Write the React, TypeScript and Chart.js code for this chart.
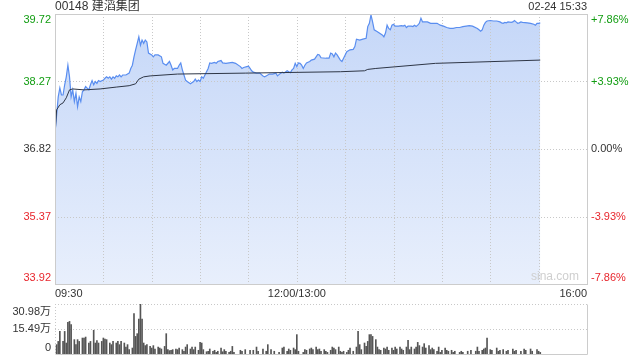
import { useEffect, useRef } from "react";
import { Chart, registerables } from "chart.js";

Chart.register(...registerables);

// ---------- data ----------
const stockTitle = "00148 建滔集团";
const stampText = "02-24 15:33";
const prevClose = 36.82;
const priceTicks = [33.92, 35.37, 36.82, 38.27, 39.72];
const pctTicks = ["-7.86%", "-3.93%", "0.00%", "+3.93%", "+7.86%"];
const timeLabels = ["09:30", "12:00/13:00", "16:00"];
const volTicks = [0, 15.49, 30.98];
const volTickLabels = ["0", "15.49万", "30.98万"];
const watermark = "sina.com";

const priceTimes = [
  "09:30","09:32","09:33","09:34","09:35","09:36","09:37","09:38","09:39","09:40",
  "09:41","09:42","09:43","09:44","09:45","09:46","09:47","09:48","09:49","09:51",
  "09:52","09:53","09:54","09:55","09:56","09:57","09:58","10:00","10:01","10:02",
  "10:03","10:04","10:05","10:06","10:07","10:08","10:09","10:10","10:11","10:12",
  "10:14","10:16","10:17","10:18","10:19","10:20","10:21","10:22","10:23","10:24",
  "10:25","10:26","10:27","10:28","10:30","10:31","10:32","10:34","10:36","10:37",
  "10:39","10:41","10:42","10:43","10:44","10:46","10:47","10:48","10:49","10:50",
  "10:51","10:52","10:54","10:56","10:57","10:58","10:59","11:00","11:01","11:02",
  "11:03","11:04","11:05","11:06","11:07","11:08","11:09","11:10","11:11","11:13",
  "11:14","11:16","11:18","11:20","11:22","11:25","11:26","11:27","11:29","11:30",
  "11:31","11:32","11:33","11:35","11:37","11:39","11:40","11:41","11:43","11:45",
  "11:47","11:48","11:50","11:51","11:52","11:54","11:55","11:56","11:57","11:58",
  "11:59","12:00",
  "13:01","13:02","13:03","13:04","13:05","13:06","13:08","13:09","13:11","13:13",
  "13:14","13:15","13:18","13:20","13:21","13:22","13:23","13:24","13:25","13:27",
  "13:28","13:29","13:31","13:33","13:35","13:36","13:37","13:39","13:41","13:43",
  "13:44","13:45","13:46","13:47","13:48","13:50","13:53","13:54","13:55","13:56",
  "13:57","13:58","13:59","14:00","14:01","14:03","14:05","14:06","14:07","14:08",
  "14:09","14:11","14:12","14:13","14:14","14:15","14:16","14:17","14:18","14:21",
  "14:23","14:25","14:27","14:29","14:31","14:33","14:35","14:37","14:39","14:41",
  "14:43","14:45","14:47","14:49","14:52","14:53","14:54","14:55","14:56","14:57",
  "14:58","15:00","15:02","15:04","15:06","15:07","15:08","15:09","15:10","15:11",
  "15:13","15:14","15:15","15:16","15:17","15:18","15:19","15:20","15:23","15:25",
  "15:27","15:28","15:29","15:30","15:31",
];
const priceValues = [
  37.16,37.94,38.13,37.98,37.98,38.20,38.37,38.62,38.37,37.94,
  38.09,37.84,38.02,37.73,37.94,37.84,38.05,38.09,38.16,38.09,
  38.20,38.29,38.20,38.27,38.23,38.29,38.27,38.30,38.34,38.37,
  38.34,38.37,38.32,38.37,38.34,38.39,38.37,38.41,38.37,38.41,
  38.41,38.45,38.55,38.62,38.80,38.95,39.09,39.23,39.05,39.16,
  39.09,39.16,39.12,38.88,38.84,38.80,38.84,38.84,38.80,38.66,
  38.62,38.70,38.62,38.52,38.55,38.55,38.62,38.67,38.52,38.41,
  38.30,38.27,38.22,38.27,38.32,38.27,38.30,38.27,38.37,38.34,
  38.41,38.48,38.55,38.67,38.66,38.67,38.68,38.66,38.70,38.72,
  38.67,38.66,38.67,38.68,38.66,38.59,38.55,38.57,38.59,38.60,
  38.55,38.50,38.47,38.45,38.45,38.39,38.37,38.39,38.43,38.43,
  38.45,38.39,38.45,38.47,38.45,38.50,38.48,38.46,38.52,38.55,
  38.66,38.59,
  38.67,38.66,38.62,38.55,38.62,38.67,38.70,38.73,38.75,38.85,
  38.84,38.78,38.77,38.77,38.88,38.86,38.80,38.88,38.84,38.73,
  38.70,38.77,38.91,38.95,38.96,39.02,39.18,39.16,39.18,39.20,
  39.45,39.52,39.70,39.55,39.38,39.34,39.27,39.23,39.31,39.48,
  39.41,39.38,39.48,39.50,39.46,39.46,39.47,39.46,39.48,39.43,
  39.46,39.46,39.45,39.48,39.45,39.48,39.52,39.63,39.55,39.55,
  39.52,39.52,39.52,39.48,39.46,39.43,39.41,39.41,39.43,39.43,
  39.45,39.46,39.47,39.46,39.41,39.38,39.35,39.38,39.48,39.54,
  39.57,39.58,39.57,39.57,39.55,39.53,39.52,39.54,39.53,39.55,
  39.54,39.55,39.58,39.55,39.52,39.53,39.55,39.54,39.53,39.52,
  39.50,39.48,39.52,39.52,39.53,
];

const avgTimes = [
  "09:30","09:31","09:33","09:35","09:37","09:39","09:41","09:48","09:58","10:08",
  "10:16","10:20","10:22","10:25","10:29","10:46","11:28","13:27","13:42","13:44",
  "13:49","14:26","15:31",
];
const avgValues = [
  37.12,37.66,37.77,37.81,37.92,38.09,38.11,38.09,38.11,38.15,
  38.18,38.22,38.32,38.37,38.39,38.43,38.45,38.48,38.50,38.53,
  38.55,38.66,38.73,
];

const volTimes = [
  "09:31","09:32","09:33","09:35","09:36","09:37","09:38","09:39","09:40","09:42",
  "09:43","09:44","09:45","09:47","09:48","09:49","09:51","09:52","09:54","09:55",
  "09:56","09:57","09:59","10:00","10:01","10:02","10:04","10:05","10:06","10:08",
  "10:09","10:10","10:11","10:13","10:14","10:15","10:16","10:18","10:19","10:20",
  "10:21","10:22","10:23","10:24","10:25","10:26","10:27","10:29","10:30","10:31",
  "10:32","10:34","10:35","10:36","10:38","10:39","10:40","10:41","10:42","10:43",
  "10:45","10:46","10:47","10:49","10:50","10:51","10:52","10:54","10:55","10:56",
  "10:57","10:59","11:00","11:01","11:02","11:04","11:05","11:06","11:08","11:09",
  "11:10","11:11","11:13","11:14","11:15","11:16","11:18","11:19","11:20","11:21",
  "11:25","11:26","11:28","11:31","11:33","11:35","11:36","11:39","11:41","11:42",
  "11:44","11:46","11:49","11:51","11:52","11:54","11:55","11:56","11:58","11:59",
  "13:00","13:01","13:04","13:05","13:06","13:08","13:09","13:10","13:12","13:13",
  "13:14","13:15","13:17","13:18","13:19","13:21","13:22","13:23","13:24","13:26",
  "13:27","13:28","13:29","13:31","13:32","13:33","13:35","13:37","13:38","13:39",
  "13:40","13:42","13:43","13:44","13:45","13:46","13:47","13:49","13:50","13:51",
  "13:52","13:54","13:55","13:56","13:57","13:59","14:00","14:01","14:02","14:04",
  "14:05","14:06","14:08","14:09","14:10","14:11","14:13","14:14","14:15","14:16",
  "14:18","14:19","14:20","14:22","14:23","14:24","14:25","14:27","14:28","14:29",
  "14:30","14:32","14:33","14:34","14:36","14:37","14:38","14:41","14:42","14:43",
  "14:46","14:48","14:51","14:52","14:53","14:55","14:56","14:57","14:58","15:00",
  "15:01","15:04","15:05","15:06","15:08","15:10","15:11","15:14","15:15","15:16",
  "15:19","15:21","15:22","15:25","15:26","15:29","15:30","15:31",
];
const volValues = [
  5.8,7.8,14.0,7.8,14.0,6.8,19.6,20.2,18.2,8.9,
  5.8,8.9,7.8,9.9,9.9,10.5,6.8,7.8,14.7,6.8,
  8.3,6.8,7.8,9.9,9.3,8.9,6.8,5.8,7.8,6.8,
  7.8,5.8,7.8,6.8,4.3,5.8,2.7,3.7,25.0,10.9,
  12.6,21.7,30.98,21.7,6.8,5.2,5.8,4.7,3.7,5.2,
  3.1,4.3,3.7,3.1,4.7,12.6,2.7,2.1,2.3,2.7,
  3.1,2.7,3.7,2.7,1.7,4.3,5.8,3.1,4.3,2.7,
  4.3,2.3,7.2,6.8,2.7,1.4,1.7,3.1,1.7,2.3,
  1.0,1.7,3.7,1.4,2.7,1.7,1.0,1.7,4.7,1.0,
  2.3,1.7,2.7,2.3,2.3,4.3,1.7,3.1,1.7,5.8,
  2.7,1.7,1.0,3.7,4.3,1.7,3.1,2.3,3.7,2.7,
  12.0,1.7,1.0,2.7,2.3,3.1,3.7,2.7,4.3,2.7,
  3.1,1.7,2.7,1.7,1.0,2.3,4.3,3.7,2.7,4.3,
  1.7,1.0,1.7,1.0,2.3,3.7,1.7,4.3,14.0,5.8,
  2.7,6.8,4.7,7.8,12.0,12.0,10.9,8.9,4.3,2.7,
  2.3,3.7,3.1,4.3,2.3,3.7,2.3,4.3,3.1,4.3,
  3.1,2.3,4.3,8.5,2.7,4.3,3.1,4.3,7.2,5.2,
  4.3,6.4,3.7,5.2,2.7,3.7,2.7,1.7,4.3,1.0,
  2.3,3.7,2.3,1.7,2.3,1.0,1.7,1.0,1.7,1.0,
  1.7,2.3,1.7,4.3,1.7,2.3,3.1,3.7,9.9,2.7,
  2.3,3.7,1.7,2.3,2.7,1.7,2.3,3.1,1.7,2.3,
  1.7,3.1,2.3,3.1,1.7,2.7,1.7,1.0,
];

// ---------- helpers ----------
const SESSION_MINUTES = 330;
function tradingMinute(t: string): number {
  const [h, m] = t.split(":").map(Number);
  const mins = h * 60 + m;
  if (mins >= 13 * 60) return 150 + (mins - 13 * 60);
  return mins - (9 * 60 + 30);
}

const FONT = '"Liberation Sans", Arial, "Noto Sans CJK SC", sans-serif';
const GREEN = "#119d11";
const RED = "#e8262d";
const DARK = "#333333";
const GRID = "#c8c8c8";
const FRAME = "#cccccc";

function colorFor(v: number) {
  if (Math.abs(v - prevClose) < 1e-6) return DARK;
  return v > prevClose ? GREEN : RED;
}

function dottedGrid(chart: any, xs: number[], ys: number[]) {
  const { ctx, chartArea: a } = chart;
  ctx.save();
  ctx.strokeStyle = GRID;
  ctx.lineWidth = 1;
  ctx.setLineDash([1, 2]);
  ctx.beginPath();
  xs.forEach((px) => {
    const x = Math.round(px) + 0.5;
    ctx.moveTo(x, a.top);
    ctx.lineTo(x, a.bottom);
  });
  ys.forEach((py) => {
    const y = Math.round(py) + 0.5;
    ctx.moveTo(a.left, y);
    ctx.lineTo(a.right, y);
  });
  ctx.stroke();
  ctx.restore();
}

const pricePlugin = {
  id: "priceDecor",
  beforeDatasetsDraw(chart: any) {
    const { scales } = chart;
    const xs: number[] = [];
    for (let v = 30; v < SESSION_MINUTES; v += 30) xs.push(scales.x.getPixelForValue(v));
    const ys = priceTicks.slice(1, -1).map((v) => scales.y.getPixelForValue(v));
    dottedGrid(chart, xs, ys);
  },
  afterDraw(chart: any) {
    const { ctx, chartArea: a, scales } = chart;
    const y = scales.y;
    const x = scales.x;
    ctx.save();
    ctx.strokeStyle = FRAME;
    ctx.lineWidth = 1;
    ctx.strokeRect(Math.round(a.left) + 0.5, Math.round(a.top) + 0.5, Math.round(a.right - a.left), Math.round(a.bottom - a.top));
    ctx.fillStyle = DARK;
    ctx.textBaseline = "middle";
    ctx.font = `12px ${FONT}`;
    ctx.textAlign = "left";
    ctx.fillText(stockTitle, a.left, 7);
    ctx.font = `11px ${FONT}`;
    ctx.textAlign = "right";
    ctx.fillText(stampText, a.right, 7);
    priceTicks.forEach((v, i) => {
      let py = y.getPixelForValue(v);
      if (i === priceTicks.length - 1) py += 6;
      else if (i === 0) py -= 6;
      ctx.fillStyle = colorFor(v);
      ctx.textAlign = "right";
      ctx.fillText(v.toFixed(2), a.left - 4, py);
      ctx.textAlign = "left";
      ctx.fillText(pctTicks[i], a.right + 4, py);
    });
    ctx.fillStyle = DARK;
    const ty = a.bottom + 10;
    ctx.textAlign = "left";
    ctx.fillText(timeLabels[0], x.getPixelForValue(0), ty);
    ctx.textAlign = "center";
    ctx.fillText(timeLabels[1], x.getPixelForValue(150), ty);
    ctx.textAlign = "right";
    ctx.fillText(timeLabels[2], x.getPixelForValue(SESSION_MINUTES), ty);
    ctx.fillStyle = "#cfcfcf";
    ctx.font = `12px ${FONT}`;
    ctx.textAlign = "right";
    ctx.fillText(watermark, a.right - 8, a.bottom - 7);
    ctx.restore();
  },
};

const volPlugin = {
  id: "volDecor",
  beforeDatasetsDraw(chart: any) {
    const { scales } = chart;
    const ys = volTicks.slice(1).map((v) => scales.y.getPixelForValue(v));
    dottedGrid(chart, [chart.chartArea.left], ys);
  },
  afterDraw(chart: any) {
    const { ctx, chartArea: a, scales } = chart;
    const y = scales.y;
    ctx.save();
    ctx.strokeStyle = FRAME;
    ctx.lineWidth = 1;
    ctx.beginPath();
    const r = Math.round(a.right) + 0.5;
    const b = Math.round(a.bottom) + 0.5;
    ctx.moveTo(r, Math.round(a.top) + 0.5);
    ctx.lineTo(r, b);
    ctx.lineTo(Math.round(a.left) + 0.5, b);
    ctx.stroke();
    ctx.fillStyle = DARK;
    ctx.font = `11px ${FONT}`;
    ctx.textBaseline = "middle";
    ctx.textAlign = "right";
    volTicks.forEach((v, i) => {
      let py = y.getPixelForValue(v);
      if (i === volTicks.length - 1) py += 8;
      else if (i === 0) py -= 6;
      ctx.fillText(volTickLabels[i], a.left - 4, py);
    });
    ctx.restore();
  },
};

export default function App() {
  const priceRef = useRef<HTMLCanvasElement | null>(null);
  const volRef = useRef<HTMLCanvasElement | null>(null);

  useEffect(() => {
    document.body.style.margin = "0";
    const priceData = priceTimes.map((t, i) => ({ x: tradingMinute(t), y: priceValues[i] }));
    const avgData = avgTimes.map((t, i) => ({ x: tradingMinute(t), y: avgValues[i] }));
    const volData = volTimes.map((t, i) => ({ x: tradingMinute(t), y: volValues[i] }));

    const priceChart = new Chart(priceRef.current as HTMLCanvasElement, {
      type: "line",
      data: {
        datasets: [
          {
            data: priceData,
            borderColor: "#5a8ef0",
            borderWidth: 1.2,
            pointRadius: 0,
            tension: 0,
            fill: "start",
            order: 1,
            backgroundColor: (c: any) => {
              const { chart } = c;
              const area = chart.chartArea;
              if (!area) return "rgba(210,225,250,1)";
              const g = chart.ctx.createLinearGradient(0, area.top, 0, area.bottom);
              g.addColorStop(0, "rgba(197,215,248,1)");
              g.addColorStop(1, "rgba(232,239,252,1)");
              return g;
            },
          },
          {
            data: avgData,
            borderColor: "#2e3646",
            borderWidth: 1,
            pointRadius: 0,
            tension: 0,
            fill: false,
            order: 0,
          },
        ],
      },
      options: {
        responsive: false,
        animation: false,
        events: [],
        layout: { padding: { left: 55, right: 53, top: 14, bottom: 16 } },
        plugins: {
          legend: { display: false },
          tooltip: { enabled: false },
          filler: { drawTime: "beforeDatasetsDraw" },
        },
        scales: {
          x: {
            type: "linear",
            min: 0,
            max: SESSION_MINUTES,
            afterFit: (s: any) => { s.height = 0; },
            ticks: { display: false },
            grid: { display: false },
            border: { display: false },
          },
          y: {
            min: priceTicks[0],
            max: priceTicks[priceTicks.length - 1],
            afterFit: (s: any) => { s.width = 0; },
            ticks: { display: false },
            grid: { display: false },
            border: { display: false },
          },
        },
      } as any,
      plugins: [pricePlugin],
    });

    const volChart = new Chart(volRef.current as HTMLCanvasElement, {
      type: "bar",
      data: {
        datasets: [
          {
            data: volData,
            backgroundColor: "#555555",
            barThickness: 1,
            borderWidth: 0,
          },
        ],
      },
      options: {
        responsive: false,
        animation: false,
        events: [],
        layout: { padding: { left: 55, right: 53, top: 14, bottom: 6 } },
        plugins: { legend: { display: false }, tooltip: { enabled: false } },
        scales: {
          x: {
            type: "linear",
            min: 0,
            max: SESSION_MINUTES,
            offset: false,
            afterFit: (s: any) => { s.height = 0; },
            ticks: { display: false },
            grid: { display: false },
            border: { display: false },
          },
          y: {
            min: 0,
            max: volTicks[volTicks.length - 1],
            afterFit: (s: any) => { s.width = 0; },
            ticks: { display: false },
            grid: { display: false },
            border: { display: false },
          },
        },
      } as any,
      plugins: [volPlugin],
    });

    return () => {
      priceChart.destroy();
      volChart.destroy();
    };
  }, []);

  return (
    <div style={{ position: "relative", width: 640, height: 360, background: "#fff" }}>
      <canvas ref={priceRef} width={640} height={300} style={{ position: "absolute", left: 0, top: 0 }} />
      <canvas ref={volRef} width={640} height={70} style={{ position: "absolute", left: 0, top: 290 }} />
    </div>
  );
}
